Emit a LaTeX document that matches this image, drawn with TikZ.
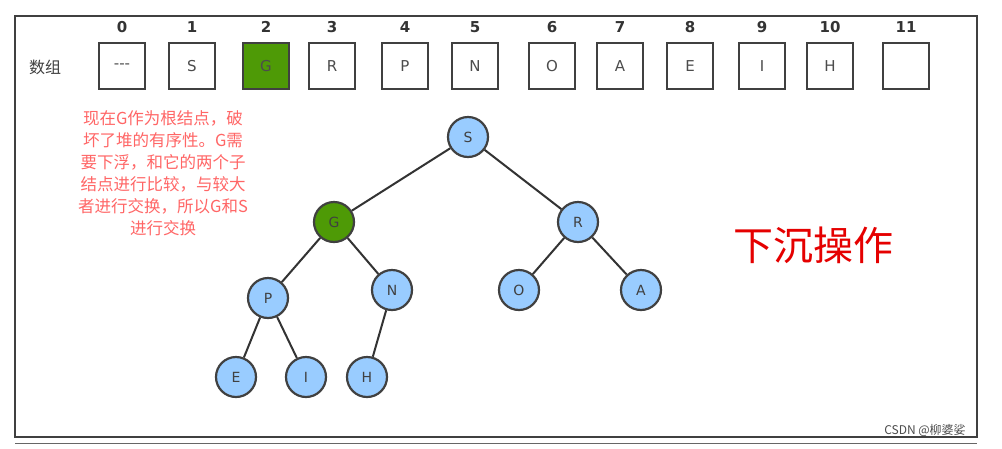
\documentclass[tikz,border=0pt]{standalone}
\usepackage{fontspec}
\setmainfont{DejaVu Sans}
\newfontfamily\cjk{Noto Sans CJK SC}
\definecolor{nb}{HTML}{99CCFF}
\definecolor{ng}{HTML}{4E9A06}
\begin{document}
\begin{tikzpicture}[x=1pt,y=-1pt,
  cell/.style={draw=black!75,line width=2.2pt,minimum size=46pt,inner sep=0pt,font=\fontsize{15}{15}\selectfont,text=black!70},
  idx/.style={font=\bfseries\fontsize{15}{15}\selectfont,text=black!80},
  tn/.style={circle,draw=black!75,line width=2.2pt,fill=nb,minimum size=40pt,inner sep=0pt,font=\fontsize{14}{14}\selectfont,text=black!75},
  gn/.style={tn,fill=ng},
  edge/.style={black!80,line width=2pt}]
\useasboundingbox (0,0) rectangle (1002,448);
\fill[white] (0,0) rectangle (1002,448);
\draw[black!75,line width=2pt] (15,16) rectangle (977,437);
\draw[black!60,line width=1pt] (15,443) -- (977,443);
\node[font=\cjk\fontsize{16}{16}\selectfont,text=black!75] (lab) at (45,67) {数组};
\foreach \x/\t/\i [count=\n] in {122/{-}{-}{-}/0,192/S/1,266/G/2,332/R/3,405/P/4,475/N/5,552/O/6,620/A/7,690/E/8,762/I/9,830/H/10,906//11}{
  \node[cell] (c\n) at (\x,66) {\t};
  \node[idx] (i\n) at (\x,27) {\i};
}
\node[cell,fill=ng] at (266,66) {G};
\node[font=\cjk\fontsize{16.5}{22}\selectfont,text=red!60,align=center,text width=200pt] (txt) at (163,173)
 {现在G作为根结点，破\\坏了堆的有序性。G需\\要下浮，和它的两个子\\结点进行比较，与较大\\者进行交换，所以G和S\\进行交换};
\node[font=\cjk\fontsize{40}{40}\selectfont,text=red!90!black] (op) at (813,245) {下沉操作};
\node[font=\cjk\fontsize{12}{12}\selectfont,text=black!70] (wm) at (925,430) {CSDN @柳婆娑};
\node[tn] (S) at (468,137) {S};
\node[gn] (G) at (334,222) {G};
\node[tn] (R) at (578,222) {R};
\node[tn] (P) at (268,298) {P};
\node[tn] (N) at (392,290) {N};
\node[tn] (O) at (519,290) {O};
\node[tn] (A) at (641,290) {A};
\node[tn] (E) at (236,377) {E};
\node[tn] (I) at (306,377) {I};
\node[tn] (H) at (367,377) {H};
\foreach \a/\b in {S/G,S/R,G/P,G/N,R/O,R/A,P/E,P/I,N/H} \draw[edge] (\a) -- (\b);
\end{tikzpicture}
\end{document}
